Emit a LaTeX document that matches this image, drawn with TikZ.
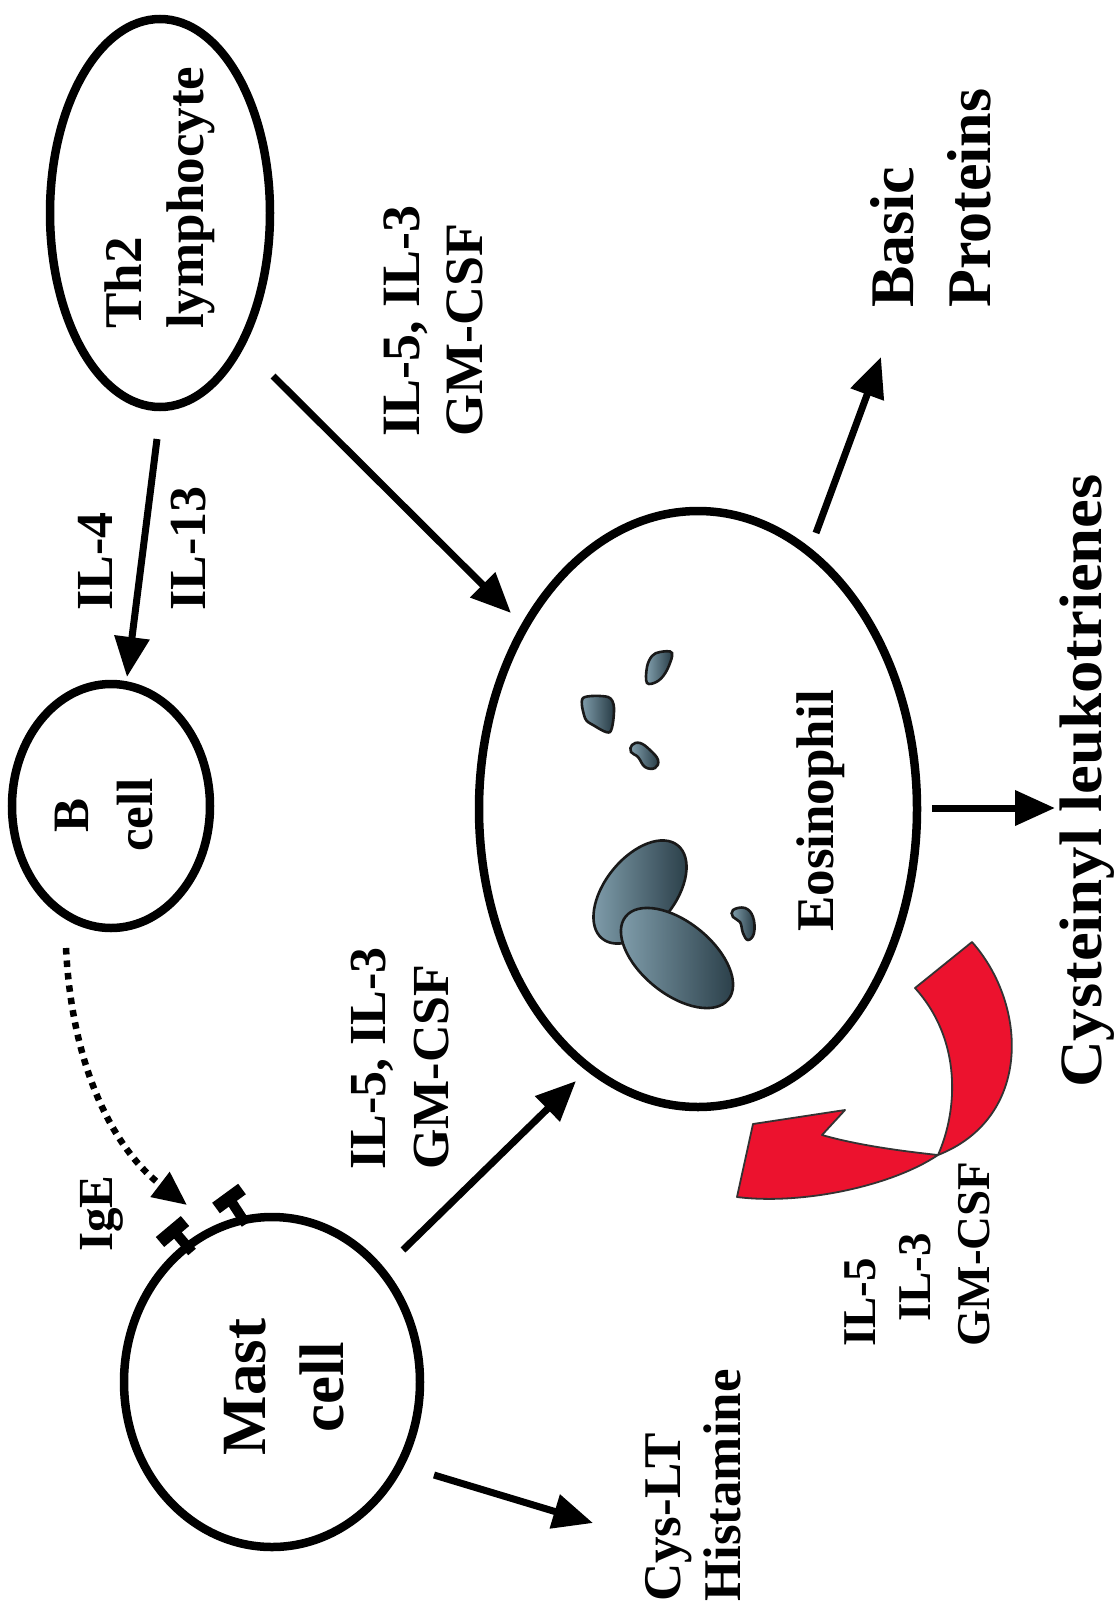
\documentclass[tikz,border=0pt]{standalone}
\usepackage{fontspec}
\setmainfont{Liberation Serif}
\usetikzlibrary{arrows.meta,shapes.geometric}
\definecolor{granLight}{RGB}{132,162,176}
\definecolor{granDark}{RGB}{38,58,68}
\definecolor{loopRed}{RGB}{236,18,46}
\newcommand\lblfont[1]{\fontsize{#1}{#1}\selectfont\bfseries}
\begin{document}
\begin{tikzpicture}[x=1pt,y=-1pt,
  cell/.style={ellipse, draw=black, line width=8.5pt, inner sep=0pt},
  txt/.style={rotate=90, inner sep=0pt, text=black},
  flow/.style={line width=7pt, draw=black, -{Triangle[length=40pt,width=34pt]}},
  dotflow/.style={line width=6.5pt, draw=black, dash pattern=on 6.5pt off 6pt,
                  -{Triangle[length=34pt,width=30pt]}},
  receptor/.style={line width=10pt, draw=black},
  receptorcap/.style={line width=13pt, draw=black},
  granule/.style={draw=black!90, line width=2.6pt, left color=granLight, right color=granDark},
  loop/.style={fill=loopRed, draw=black!80, line width=1.8pt, line join=round}]

\fill[white] (0,0) rectangle (1119,1614);
\path[use as bounding box] (0,0) rectangle (1119,1614);

% ---- cells ----
\node[cell, minimum width=220pt, minimum height=388pt] (th2) at (160,213) {};
\node[cell, minimum width=198pt, minimum height=244pt] (bcell) at (111,806) {};
\node[cell, minimum width=296pt, minimum height=330pt] (mast) at (272,1382) {};
\node[cell, minimum width=438pt, minimum height=596pt] (eos) at (698,809) {};

% ---- granules and nucleus of the eosinophil ----
\shade[granule, rotate around={51:(640,892)}] (640,892) ellipse [x radius=60pt, y radius=35pt];
\shade[granule, rotate around={-39:(677,958)}] (677,958) ellipse [x radius=66pt, y radius=36pt];
\shade[granule] plot[smooth cycle, tension=0.6] coordinates
  {(660,652) (672,653) (667,670) (658,681) (647,683) (647,667) (652,656)};
\shade[granule] plot[smooth cycle, tension=0.5] coordinates
  {(583,698) (608,697) (614,708) (610,732) (593,725) (585,718)};
\shade[granule] plot[smooth cycle, tension=0.7] coordinates
  {(632,745) (640,743) (650,750) (658,760) (655,768) (645,767) (638,757) (631,752)};
\shade[granule] plot[smooth cycle, tension=0.7] coordinates
  {(733,910) (745,908) (753,917) (754,933) (748,940) (743,933) (740,922) (733,917)};

% ---- IgE receptors on the mast cell ----
\coordinate (r1base) at (192,1252);
\coordinate (r1end) at (175,1232);
\coordinate (r1capA) at (185,1221);
\coordinate (r1capB) at (160,1242);
\coordinate (r2base) at (246,1224);
\coordinate (r2end) at (231,1201);
\coordinate (r2capA) at (242,1189);
\coordinate (r2capB) at (216,1208);
\draw[receptor] (r1base) -- (r1end);
\draw[receptorcap] (r1capA) -- (r1capB);
\draw[receptor] (r2base) -- (r2end);
\draw[receptorcap] (r2capA) -- (r2capB);

% ---- connector end points ----
\coordinate (th2toB) at (157,439);
\coordinate (Bfromth2) at (127,677);
\coordinate (th2toE) at (273,376);
\coordinate (Efromth2) at (511,613);
\coordinate (mastToE) at (403,1250);
\coordinate (EfromMast) at (576,1081);
\coordinate (mastOut) at (434,1475);
\coordinate (mediators) at (593,1523);
\coordinate (eosUp) at (816,533);
\coordinate (basicIn) at (881,357);
\coordinate (eosRight) at (932,808);
\coordinate (leukoIn) at (1055,808);
\coordinate (bOut) at (66,948);
\coordinate (mastIgE) at (187,1205);

\draw[flow] (th2toB) -- (Bfromth2);
\draw[flow] (th2toE) -- (Efromth2);
\draw[flow] (mastToE) -- (EfromMast);
\draw[flow] (mastOut) -- (mediators);
\draw[flow] (eosUp) -- (basicIn);
\draw[flow] (eosRight) -- (leukoIn);
\draw[dotflow] (bOut) .. controls (72,1070) and (115,1150) .. (mastIgE);

% ---- autocrine loop arrow ----
\filldraw[loop] (737,1197) -- (753,1124) -- (845,1110) -- (822,1135)
  .. controls (860,1146) and (910,1152) .. (938,1155)
  .. controls (958,1110) and (962,1040) .. (915,988)
  -- (972,942)
  .. controls (1028,1005) and (1032,1118) .. (938,1155)
  .. controls (890,1187) and (800,1205) .. (737,1197) -- cycle;

% ---- labels ----
\node[txt, anchor=base west, font=\lblfont{53}] (tTh) at (141,329) {Th2};
\node[txt, anchor=base west, font=\lblfont{53}] (tLy) at (203,329) {lymphocyte};
\node[txt, anchor=base, font=\lblfont{51}] (tB) at (88,815) {B};
\node[txt, anchor=base, font=\lblfont{51}] (tBc) at (152,815) {cell};
\node[txt, anchor=base, font=\lblfont{63}] (tMa) at (265,1387) {Mast};
\node[txt, anchor=base, font=\lblfont{63}] (tMc) at (343,1387) {cell};
\node[txt, anchor=base, font=\lblfont{53}] (tEo) at (833,811) {Eosinophil};

\node[txt, anchor=base west, font=\lblfont{52}] (tIL4) at (112,611) {IL-4};
\node[txt, anchor=base west, font=\lblfont{52}] (tIL13) at (205,611) {IL-13};
\node[txt, anchor=base west, font=\lblfont{54}] (tUa) at (419,437) {IL-5, IL-3};
\node[txt, anchor=base west, font=\lblfont{54}] (tUb) at (482,437) {GM-CSF};
\node[txt, anchor=base west, font=\lblfont{52}] (tLa) at (385,1170) {IL-5, IL-3};
\node[txt, anchor=base west, font=\lblfont{52}] (tLb) at (448,1170) {GM-CSF};
\node[txt, anchor=base west, font=\lblfont{47}] (tRa) at (875,1347) {IL-5};
\node[txt, anchor=base west, font=\lblfont{47}] (tRb) at (930,1322) {IL-3};
\node[txt, anchor=base west, font=\lblfont{47}] (tRc) at (989,1347) {GM-CSF};
\node[txt, anchor=base west, font=\lblfont{53}] (tCys) at (680,1602) {Cys-LT};
\node[txt, anchor=base west, font=\lblfont{53}] (tHis) at (740,1602) {Histamine};
\node[txt, anchor=base west, font=\lblfont{62}] (tBa) at (913,308) {Basic};
\node[txt, anchor=base west, font=\lblfont{62}] (tPr) at (990,308) {Proteins};
\node[txt, anchor=base, xscale=1.08, font=\lblfont{60}] (tLT) at (1101,781) {Cysteinyl leukotrienes};
\node[txt, anchor=base west, font=\lblfont{49}] (tIgE) at (112,1252) {IgE};
\end{tikzpicture}
\end{document}
